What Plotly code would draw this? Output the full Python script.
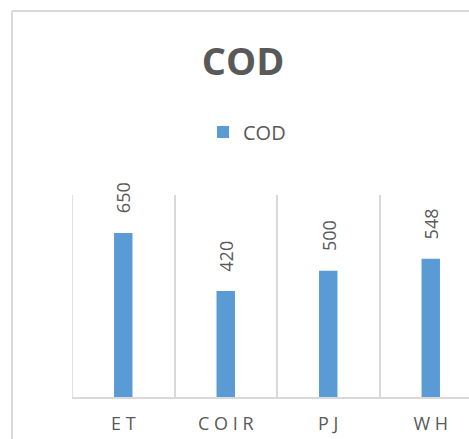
import plotly.graph_objects as go

# COD values per treatment
categories = ["E T", "C O I R", "P J", "W H"]
cod_values = [650, 420, 500, 548]
series_name = "COD"

TEXT = "#595959"
GRID = "#d9d9d9"
BAR = "#5b9bd5"

W, H = 469, 439
ML, MR, MT, MB = 72, 0, 195, 42
plot_w = W - ML - MR
plot_h = H - MT - MB
cat_px = 102.5
y_max = 800

fig = go.Figure()
fig.add_trace(go.Bar(
    x=categories, y=cod_values, name=series_name,
    marker=dict(color=BAR, line=dict(width=0)),
    width=0.18, showlegend=True,
))

# rotated value labels above each bar
for c, v in zip(categories, cod_values):
    fig.add_annotation(
        x=c, y=v, text=str(v), textangle=-90, showarrow=False,
        xref="x", yref="y", yanchor="middle", xanchor="center", yshift=35,
        font=dict(family="Open Sans", size=18, color=TEXT),
    )

# leftmost category divider
fig.add_shape(type="line", xref="x", yref="y", x0=-0.5, x1=-0.5, y0=0, y1=y_max,
              line=dict(color=GRID, width=1.5), layer="below")

# chart frame (left and top edges)
def px_to_paper_x(px):
    return (px - ML) / plot_w

def px_to_paper_y(py):
    return (H - MB - py) / plot_h

fx0, fy0 = px_to_paper_x(12), px_to_paper_y(11)
fig.add_shape(type="line", xref="paper", yref="paper",
              x0=fx0, x1=fx0, y0=fy0, y1=px_to_paper_y(460),
              line=dict(color=GRID, width=2))
fig.add_shape(type="line", xref="paper", yref="paper",
              x0=fx0, x1=px_to_paper_x(480), y0=fy0, y1=fy0,
              line=dict(color=GRID, width=2))

fig.update_layout(
    width=W, height=H,
    margin=dict(l=ML, r=MR, t=MT, b=MB, autoexpand=False),
    paper_bgcolor="white", plot_bgcolor="white",
    title=dict(text="<b>COD</b>", x=243 / W, xref="container", xanchor="center",
               y=1 - 62 / H, yref="container", yanchor="middle",
               font=dict(family="Open Sans", size=38, color=TEXT)),
    legend=dict(orientation="h", x=247 / W, xanchor="center",
                y=1 - 132 / H, yanchor="middle", xref="container", yref="container",
                font=dict(family="Open Sans", size=20, color=TEXT)),
    xaxis=dict(range=[-0.5, -0.5 + plot_w / cat_px], tickson="boundaries",
               showgrid=True, gridcolor=GRID, gridwidth=1.5,
               showline=True, linecolor=GRID, linewidth=1.5,
               ticks="", ticklabelstandoff=10, automargin=False,
               tickfont=dict(family="Open Sans", size=18, color=TEXT)),
    yaxis=dict(range=[0, y_max], visible=False, showgrid=False, zeroline=False,
               automargin=False),
)

fig.write_html("out.html")
